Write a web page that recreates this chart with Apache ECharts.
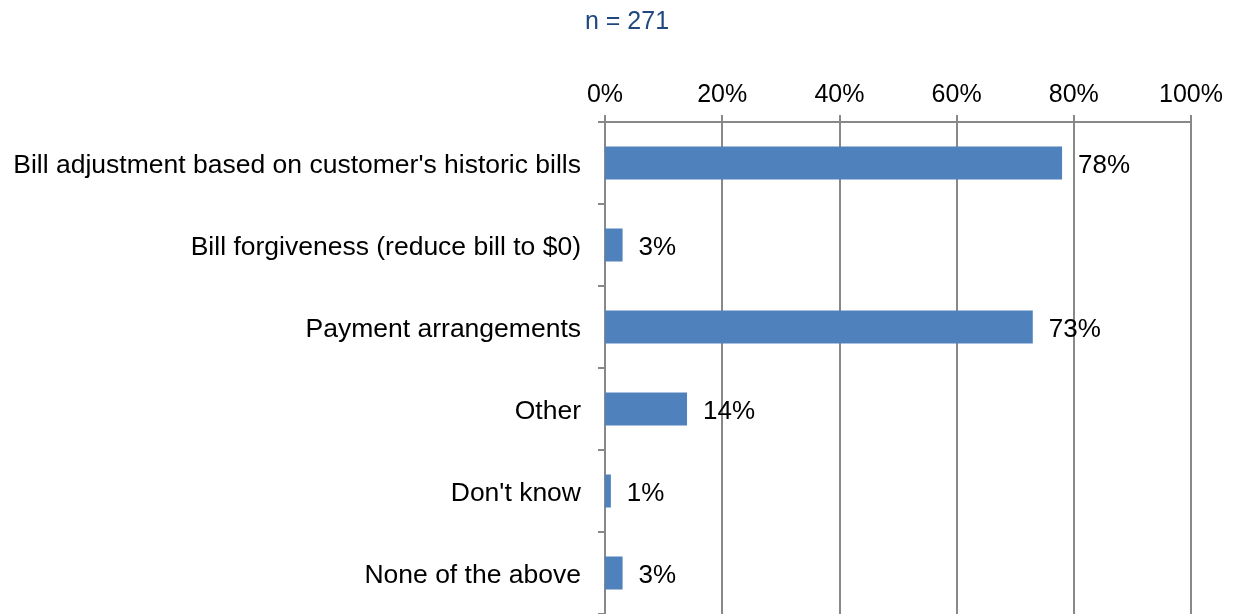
<!DOCTYPE html>
<html>
<head>
<meta charset="utf-8">
<script src="https://cdn.jsdelivr.net/npm/echarts@6/dist/echarts.min.js"></script>
<style>
  html, body { margin: 0; padding: 0; background: #fff; }
  #chart { width: 1236px; height: 614px; }
</style>
</head>
<body>
<div id="chart"></div>
<script>
// Survey answers and share of respondents (%)
const categories = [
  "Bill adjustment based on customer's historic bills",
  "Bill forgiveness (reduce bill to $0)",
  "Payment arrangements",
  "Other",
  "Don't know",
  "None of the above"
];
const shares = [78, 3, 73, 14, 1, 3];
const sampleLabel = "n = 271";

const chart = echarts.init(document.getElementById('chart'));
const font = 'Liberation Sans, Arial, sans-serif';

chart.setOption({
  animation: false,
  title: {
    text: sampleLabel,
    left: 622,
    top: 5,
    textAlign: 'center',
    textStyle: { color: '#1F497D', fontSize: 25, fontWeight: 'normal', fontFamily: font }
  },
  grid: { left: 605, right: 45, top: 122, bottom: -1, containLabel: false },
  xAxis: {
    type: 'value',
    position: 'top',
    min: 0,
    max: 100,
    interval: 20,
    axisLabel: {
      formatter: '{value}%',
      color: '#000',
      fontSize: 25,
      fontFamily: font,
      margin: 14
    },
    axisLine: { show: true, lineStyle: { color: '#888', width: 2 } },
    axisTick: { show: true, length: 7, lineStyle: { color: '#888', width: 2 } },
    splitLine: { show: true, lineStyle: { color: '#888', width: 2 } }
  },
  yAxis: {
    type: 'category',
    data: categories,
    inverse: true,
    axisLabel: {
      margin: 24,
      formatter: (v) => '{t|' + v + '}',
      rich: {
        t: {
          color: '#000',
          fontSize: 26.5,
          fontFamily: font,
          lineHeight: 30,
          padding: [6, 0, 0, 0]
        }
      }
    },
    axisLine: { show: true, lineStyle: { color: '#888', width: 2 } },
    axisTick: { show: true, length: 7, lineStyle: { color: '#888', width: 2 } }
  },
  series: [{
    type: 'bar',
    data: shares,
    barWidth: 33,
    itemStyle: { color: '#4F81BD' },
    label: {
      show: true,
      position: 'right',
      distance: 16,
      offset: [0, 3],
      formatter: '{c}%',
      color: '#000',
      fontSize: 26,
      fontFamily: font
    }
  }]
});
</script>
</body>
</html>
